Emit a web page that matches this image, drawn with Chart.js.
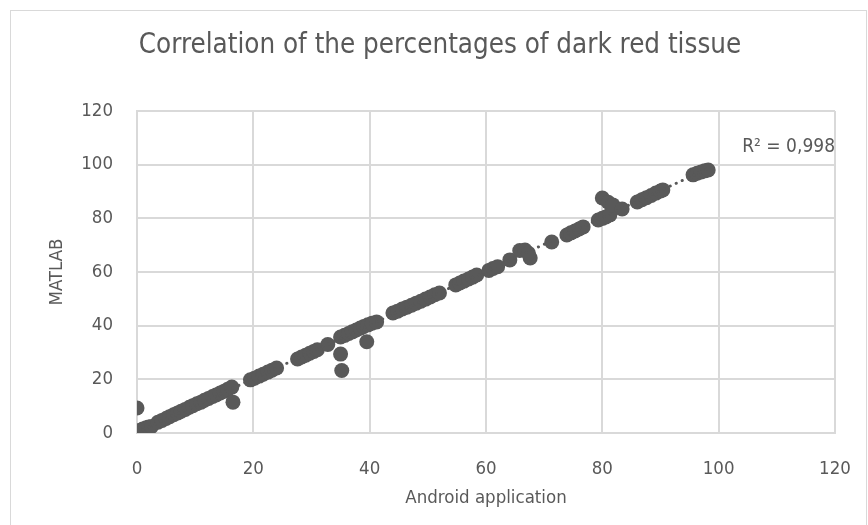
<!DOCTYPE html>
<html>
<head>
<meta charset="utf-8">
<script src="https://cdn.jsdelivr.net/npm/chart.js@4"></script>
<style>
  html, body { margin: 0; padding: 0; background: #ffffff; }
  #wrap { width: 868px; height: 525px; }
</style>
</head>
<body>
<div id="wrap"><canvas id="scatterChart" width="868" height="525"></canvas></div>
<script>
// Android application vs MATLAB percentages
const androidValues = [
  0, 0, 0.3, 0.5, 0.8, 1, 1.3, 1.6, 2, 2.5, 0,
  3.6, 4.3, 5, 5.6, 6.3, 7, 7.6, 8.3, 9, 9.6, 10.3, 11, 11.6, 12.3, 13, 13.6, 14.3, 15, 15.6, 16.3, 16.5,
  19.5, 20.2, 21, 21.7, 22.5, 23.2, 24,
  27.6, 28.3, 29, 29.7, 30.4, 31, 32.8,
  35, 35.7, 36.4, 37, 37.7, 38.4, 39, 39.7, 40.4, 41.2, 35, 35.2, 39.5,
  44, 44.8, 45.6, 46.4, 47.2, 48, 48.8, 49.6, 50.4, 51.2, 52,
  54.8, 55.5, 56.2, 57, 57.7, 58.4,
  60.5, 61.2, 62, 64.1, 65.8, 66.7, 67.6, 67.3,
  71.3, 73.9, 74.6, 75.3, 76, 76.7,
  79.3, 80, 80.6, 81.3, 80, 81, 81.8, 83.4,
  86, 86.8, 87.6, 88.4, 89.2, 90, 90.4,
  95.6, 96.3, 97, 97.6, 98.2
];
const matlabValues = [
  0, 0.5, 0.2, 1, 0.8, 1.5, 1.2, 2, 2.2, 2.4, 9.3,
  4, 4.7, 5.4, 6.1, 6.8, 7.5, 8.1, 8.8, 9.6, 10.2, 10.9, 11.5, 12.2, 12.9, 13.6, 14.2, 14.9, 15.6, 16.3, 17.1, 11.5,
  19.8, 20.4, 21.2, 21.9, 22.7, 23.4, 24.2,
  27.6, 28.3, 29, 29.7, 30.4, 31, 33,
  35.8, 36.4, 37.1, 37.7, 38.4, 39.1, 39.7, 40.3, 40.9, 41.4, 29.4, 23.3, 34,
  44.7, 45.4, 46.2, 46.9, 47.6, 48.4, 49.1, 49.9, 50.7, 51.5, 52.2,
  55.2, 55.9, 56.6, 57.4, 58.1, 58.9,
  60.6, 61.3, 62, 64.5, 68, 68.2, 65.2, 67,
  71.2, 73.8, 74.6, 75.3, 76, 76.8,
  79.4, 80, 80.5, 81.3, 87.6, 86, 85, 83.5,
  86.1, 86.9, 87.7, 88.5, 89.4, 90.2, 90.6,
  96.2, 96.8, 97.3, 97.7, 98
];
const axisTicks = [0, 20, 40, 60, 80, 100, 120];
const chartTitle = 'Correlation of the percentages of dark red tissue';
const rSquaredText = 'R² = 0,998';

const grey = '#595959';
const gridGrey = '#d9d9d9';
const fontFamily = "'DejaVu Sans Condensed', 'DejaVu Sans', sans-serif";

const points = androidValues.map((x, i) => ({ x: x, y: matlabValues[i] }));

// least squares trendline over the x range of the data
const n = points.length;
const meanX = androidValues.reduce((a, b) => a + b, 0) / n;
const meanY = matlabValues.reduce((a, b) => a + b, 0) / n;
let sxy = 0, sxx = 0;
points.forEach(p => { sxy += (p.x - meanX) * (p.y - meanY); sxx += (p.x - meanX) ** 2; });
const slope = sxy / sxx;
const intercept = meanY - slope * meanX;
const minX = Math.min(...androidValues);
const maxX = Math.max(...androidValues);
const trend = [
  { x: minX, y: intercept + slope * minX },
  { x: maxX, y: intercept + slope * maxX }
];

// outer frame, title and R² label
const extras = {
  id: 'extras',
  beforeDraw(chart) {
    const c = chart.ctx;
    c.save();
    c.fillStyle = '#ffffff';
    c.fillRect(0, 0, chart.width, chart.height);
    c.strokeStyle = gridGrey;
    c.lineWidth = 1;
    c.strokeRect(10.5, 10.5, 856, 530);
    c.font = '27.5px ' + fontFamily;
    c.fillStyle = grey;
    c.textAlign = 'center';
    c.textBaseline = 'middle';
    c.fillText(chartTitle, 440, 46);
    c.restore();
  },
  afterDatasetsDraw(chart) {
    const c = chart.ctx;
    c.save();
    c.font = '19px ' + fontFamily;
    c.fillStyle = grey;
    c.textBaseline = 'middle';
    c.textAlign = 'right';
    c.fillText(rSquaredText, chart.chartArea.right, 147);
    c.restore();
  }
};

new Chart(document.getElementById('scatterChart'), {
  type: 'scatter',
  data: {
    datasets: [
      {
        label: 'MATLAB',
        data: points,
        backgroundColor: grey,
        borderWidth: 0,
        pointRadius: 7.5,
        pointHoverRadius: 7.5,
        order: 2
      },
      {
        label: 'Trend',
        type: 'line',
        data: trend,
        borderColor: grey,
        borderWidth: 3,
        borderDash: [0.1, 6.5],
        borderCapStyle: 'round',
        pointRadius: 0,
        fill: false,
        order: 1
      }
    ]
  },
  plugins: [extras],
  options: {
    responsive: false,
    animation: false,
    layout: { padding: { left: 0, right: 33, top: 111, bottom: 0 } },
    plugins: {
      legend: { display: false },
      tooltip: { enabled: false }
    },
    scales: {
      x: {
        type: 'linear',
        min: 0,
        max: 120,
        afterBuildTicks: s => { s.ticks = axisTicks.map(v => ({ value: v })); },
        afterFit: s => { s.height = 92; s.paddingLeft = 0; s.paddingRight = 0; },
        grid: { color: gridGrey, lineWidth: 2, drawTicks: false },
        border: { color: gridGrey, width: 2 },
        ticks: { color: grey, padding: 25, font: { family: fontFamily, size: 18.5 } },
        title: {
          display: true,
          text: 'Android application',
          color: grey,
          font: { family: fontFamily, size: 18.5 },
          padding: { top: 0, bottom: 16 }
        }
      },
      y: {
        type: 'linear',
        min: 0,
        max: 120,
        afterBuildTicks: s => { s.ticks = axisTicks.map(v => ({ value: v })); },
        afterFit: s => { s.width = 137; s.paddingTop = 0; s.paddingBottom = 0; },
        grid: { color: gridGrey, lineWidth: 2, drawTicks: false },
        border: { color: gridGrey, width: 2 },
        ticks: { color: grey, padding: 24, font: { family: fontFamily, size: 18.5 } },
        title: {
          display: true,
          text: 'MATLAB',
          color: grey,
          font: { family: fontFamily, size: 18.5 },
          padding: { top: 46, bottom: 0 }
        }
      }
    }
  }
});
</script>
</body>
</html>
